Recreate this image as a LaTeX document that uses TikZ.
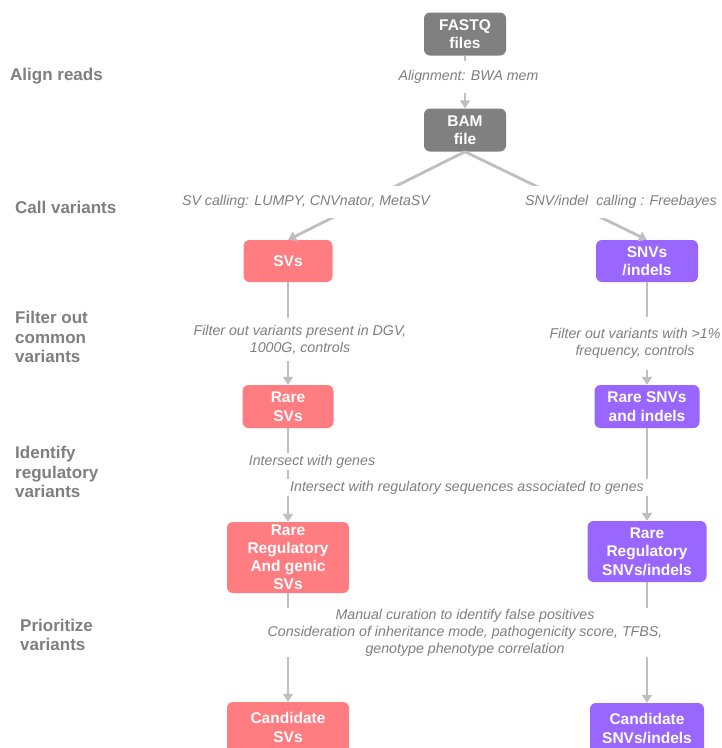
\documentclass[tikz,border=0pt]{standalone}
\usepackage{fontspec}
\setmainfont{Liberation Sans}
\usetikzlibrary{arrows.meta}
\definecolor{boxgray}{HTML}{808080}
\definecolor{svpink}{HTML}{FF7C80}
\definecolor{snvpurple}{HTML}{9966FF}
\definecolor{linegray}{HTML}{BFBFBF}
\definecolor{textgray}{HTML}{7F7F7F}
\begin{document}
\begin{tikzpicture}[x=1pt,y=-1pt,
 box/.style={rounded corners=6pt,text=white,font=\fontsize{15.5}{18.5}\selectfont\bfseries,align=center,inner sep=0pt},
 filebox/.style={box,fill=boxgray,minimum width=82pt,minimum height=43pt},
 svbox/.style={box,fill=svpink},
 snvbox/.style={box,fill=snvpurple},
 flow/.style={draw=linegray,line width=2.8pt,-{Triangle[width=10pt,length=8pt]}},
 tool/.style={fill=white,text=textgray,font=\fontsize{14.2}{17}\selectfont\itshape,align=center,inner xsep=3pt},
 stage/.style={anchor=west,text=textgray,font=\fontsize{17}{19.5}\selectfont\bfseries,align=left,inner sep=0pt}]
 \useasboundingbox[fill=white] (0,0) rectangle (722,748);
 \node[filebox] (fastq) at (465,34) {FASTQ\\files};
 \node[filebox] (bam) at (465,130) {BAM\\file};
 \node[svbox,minimum width=89pt,minimum height=42pt] (svs) at (288,261) {SVs};
 \node[snvbox,minimum width=102pt,minimum height=42pt] (snvs) at (647,261) {SNVs\\/indels};
 \node[svbox,minimum width=91pt,minimum height=43pt] (rsvs) at (288,406.5) {Rare\\SVs};
 \node[snvbox,minimum width=105pt,minimum height=43pt] (rsnvs) at (647,406.5) {Rare SNVs\\and indels};
 \node[svbox,minimum width=122pt,minimum height=71pt,font=\fontsize{15.5}{18}\selectfont\bfseries] (rrsvs) at (288,557.5) {Rare\\Regulatory\\And genic\\SVs};
 \node[snvbox,minimum width=119pt,minimum height=61pt] (rrsnvs) at (647,551.5) {Rare\\Regulatory\\SNVs/indels};
 \node[svbox,minimum width=122pt,minimum height=51pt] (csvs) at (288,727.5) {Candidate\\SVs};
 \node[snvbox,minimum width=114pt,minimum height=51pt] (csnvs) at (647,728.5) {Candidate\\SNVs/indels};
 \draw[flow] (fastq) -- (bam);
 \draw[flow] (bam.south) -- (svs.north);
 \draw[flow] (bam.south) -- (snvs.north);
 \draw[flow] (svs) -- (rsvs);
 \draw[flow] (snvs) -- (rsnvs);
 \draw[flow] (rsvs) -- (rrsvs);
 \draw[flow] (rsnvs) -- (rrsnvs);
 \draw[flow] (rrsvs) -- (csvs);
 \draw[flow] (rrsnvs) -- (csnvs);
 \node[tool,inner ysep=9pt] (aln) at (468.5,77) {Alignment: BWA mem};
 \node[tool,inner ysep=9pt] (svcall) at (306,202) {SV calling: LUMPY, CNVnator, MetaSV};
 \node[tool,inner ysep=9pt] (snvcall) at (621,202) {SNV/indel~ calling : Freebayes};
 \node[tool,inner ysep=7pt] (svfilt) at (300,339.5) {Filter out variants present in DGV,\\1000G, controls};
 \node[tool,inner ysep=11pt] (snvfilt) at (635,343.5) {Filter out variants with >1\%\\frequency, controls};
 \node[tool,inner ysep=2pt] (isgenes) at (312,461.5) {Intersect with genes};
 \node[tool,inner ysep=2pt,inner xsep=6pt] (isreg) at (467,487.5) {Intersect with regulatory sequences associated to genes};
 \node[tool,inner ysep=1pt] (manual) at (465,632.5) {Manual curation to identify false positives\\Consideration of inheritance mode, pathogenicity score, TFBS,\\genotype phenotype correlation};
 \node[stage] (align) at (10,76) {Align reads};
 \node[stage] (call) at (15,207) {Call variants};
 \node[stage] (filter) at (15,337) {Filter out\\common\\variants};
 \node[stage] (ident) at (15,472) {Identify\\regulatory\\variants};
 \node[stage] (prio) at (20,635) {Prioritize\\variants};
\end{tikzpicture}
\end{document}
